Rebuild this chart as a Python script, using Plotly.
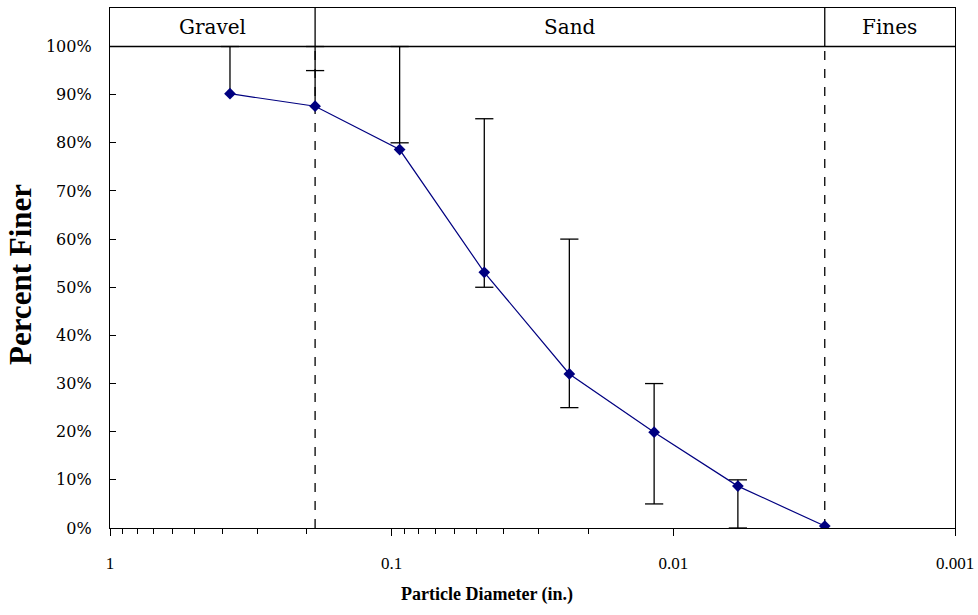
import math
import plotly.graph_objects as go

# ---- data ----
sieve_size_in = [0.375, 0.187, 0.0937, 0.0469, 0.0234, 0.0117, 0.0059, 0.0029]
percent_finer = [90.2, 87.6, 78.6, 53.1, 32.0, 19.9, 8.7, 0.4]
spec_upper = [100, 100, 100, 85, 60, 30, 10, None]
spec_lower = [100, 95, 80, 50, 25, 5, 0, None]

zone_labels = ["Gravel", "Sand", "Fines"]
zone_bounds = [1.0, 0.187, 0.0029, 0.001]   # gravel | sand | fines

x_tickvals = [1, 0.1, 0.01, 0.001]
x_ticktext = ["1", "0.1", "0.01", "0.001"]
minor_mult = [2, 3, 4, 5, 6, 7, 8, 9]
y_tickvals = [0, 10, 20, 30, 40, 50, 60, 70, 80, 90, 100]
y_ticktext = [f"{v}%" for v in y_tickvals]

NAVY = "#000080"
SERIF = "DejaVu Serif"
TIMES = "Liberation Serif"

fig = go.Figure()

# zone dividers (dashed in plot, solid in header band)
for b in zone_bounds[1:-1]:
    fig.add_trace(go.Scatter(x=[b, b], y=[0, 100], mode="lines",
                             line=dict(color="black", width=1.3, dash="dash"),
                             hoverinfo="skip", showlegend=False))
    fig.add_trace(go.Scatter(x=[b, b], y=[100, 108], mode="lines",
                             line=dict(color="black", width=1.3),
                             hoverinfo="skip", showlegend=False))

# error bar stems (spec range)
sx, sy = [], []
cx, cy = [], []
for d, v, up, lo in zip(sieve_size_in, percent_finer, spec_upper, spec_lower):
    if up is None:
        continue
    vals = [v, up, lo]
    sx += [d, d, None]
    sy += [min(vals), max(vals), None]
    cx.append(d); cy.append(up)
    if lo != up:
        cx.append(d); cy.append(lo)

fig.add_trace(go.Scatter(x=sx, y=sy, mode="lines",
                         line=dict(color="black", width=1.3),
                         hoverinfo="skip", showlegend=False))
fig.add_trace(go.Scatter(x=cx, y=cy, mode="markers",
                         marker=dict(symbol="line-ew", size=13,
                                     line=dict(color="black", width=1.3)),
                         hoverinfo="skip", showlegend=False))

# gradation curve
fig.add_trace(go.Scatter(x=sieve_size_in, y=percent_finer, mode="lines+markers",
                         line=dict(color=NAVY, width=1.2),
                         marker=dict(symbol="diamond", size=9, color=NAVY),
                         showlegend=False))

shapes = [dict(type="line", xref="paper", yref="y", x0=0, x1=1, y0=100, y1=100,
               line=dict(color="black", width=1.3))]

annotations = []
for i, lab in enumerate(zone_labels):
    mid = (math.log10(zone_bounds[i]) + math.log10(zone_bounds[i + 1])) / 2
    annotations.append(dict(x=mid, y=104, xref="x", yref="y", text=lab,
                            showarrow=False, font=dict(family=SERIF, size=20, color="black")))

annotations.append(dict(text="<b>Particle Diameter (in.)</b>", xref="paper", yref="paper",
                        x=0.446, y=-0.1287, xanchor="center", yanchor="middle",
                        showarrow=False, font=dict(family=TIMES, size=18, color="black")))
annotations.append(dict(text="<b>Percent Finer</b>", xref="paper", yref="paper",
                        x=-0.1065, y=0.4865, xanchor="center", yanchor="middle", textangle=-90,
                        showarrow=False, font=dict(family=TIMES, size=31, color="black")))

minor_vals = [m * 10 ** (-n) for n in range(0, 3) for m in minor_mult]

fig.update_layout(
    width=978, height=615,
    margin=dict(l=110, r=23, t=8, b=87, autoexpand=False),
    paper_bgcolor="white", plot_bgcolor="white",
    shapes=shapes, annotations=annotations,
    xaxis=dict(type="log", range=[0, -3], tickmode="array",
               tickvals=x_tickvals, ticktext=x_ticktext, automargin=False,
               ticks="outside", ticklen=7, tickcolor="black", tickwidth=1.3,
               showline=True, linecolor="black", linewidth=1.3, mirror=True,
               showgrid=False, zeroline=False, ticklabelstandoff=12,
               tickfont=dict(family=TIMES, size=17, color="black"),
               minor=dict(tickmode="array", tickvals=minor_vals, ticks="outside",
                          ticklen=5, tickcolor="black", tickwidth=1, showgrid=False)),
    yaxis=dict(range=[0, 108], tickmode="array", tickvals=y_tickvals, ticktext=y_ticktext,
               automargin=False,
               ticks="inside", ticklen=6, tickcolor="black", tickwidth=1.3,
               showline=True, linecolor="black", linewidth=1.3, mirror=True,
               showgrid=False, zeroline=False, ticklabelstandoff=14,
               tickfont=dict(family=SERIF, size=16, color="black")),
)

fig.write_html("out.html", config={"displayModeBar": False},
               post_script="document.body.style.margin='0';document.body.style.overflow='hidden';")
